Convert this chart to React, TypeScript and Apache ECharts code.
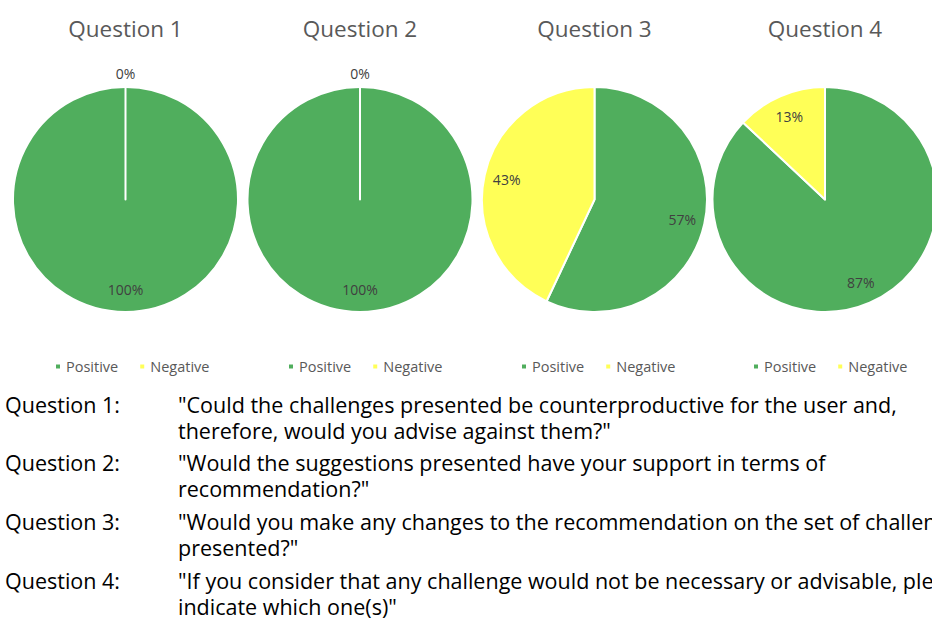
import React, { useEffect, useRef } from "react";
import * as echarts from "echarts";

const categories = ["Positive", "Negative"];
const chartTitles = ["Question 1", "Question 2", "Question 3", "Question 4"];
const positiveValues = [100, 100, 57, 87];
const negativeValues = [0, 0, 43, 13];
const questionLabels = ["Question 1:", "Question 2:", "Question 3:", "Question 4:"];
const questionTexts = [
  ['"Could the challenges presented be counterproductive for the user and,', 'therefore, would you advise against them?"'],
  ['"Would the suggestions presented have your support in terms of', 'recommendation?"'],
  ['"Would you make any changes to the recommendation on the set of challenges', 'presented?"'],
  ['"If you consider that any challenge would not be necessary or advisable, please', 'indicate which one(s)"'],
];

const GREEN = "#50AE5D";
const YELLOW = "#FFFF57";
const FONT = "'Open Sans', sans-serif";

const centersX = [125.5, 360, 594.5, 825];
const centerY = 199.5;
const R = 112.5;
const legendLefts = [54, 287, 520, 752];
const blockY = [404, 462, 521, 580];
const lineGap = 26;

export default function App() {
  const ref = useRef<HTMLDivElement>(null);
  useEffect(() => {
    document.body.style.margin = "0";
    const chart = echarts.init(ref.current!, null, { renderer: "svg" });

    const series = chartTitles.map((_, i) => ({
      type: "pie",
      name: chartTitles[i],
      center: [centersX[i], centerY],
      radius: R,
      startAngle: 90,
      clockwise: true,
      avoidLabelOverlap: false,
      data: [
        { name: categories[0], value: positiveValues[i], itemStyle: { color: GREEN } },
        { name: categories[1], value: negativeValues[i], itemStyle: { color: YELLOW } },
      ],
      itemStyle: { borderColor: "#ffffff", borderWidth: 2 },
      label: {
        show: true,
        position: "inside",
        formatter: (p: any) => `${p.value}%`,
        color: "#404040",
        fontSize: 14,
        fontFamily: FONT,
      },
      labelLine: { show: false },
      labelLayout: (p: any) => {
        const s = p.seriesIndex;
        const vals = [positiveValues[s], negativeValues[s]];
        const total = vals[0] + vals[1];
        let start = 0;
        for (let k = 0; k < p.dataIndex; k++) start += vals[k];
        const v = vals[p.dataIndex];
        const mid = ((start + v / 2) / total) * Math.PI * 2;
        const f = v === 0 ? 1.12 : 0.8;
        return {
          x: centersX[s] + Math.sin(mid) * R * f,
          y: centerY - Math.cos(mid) * R * f,
          align: "center",
          verticalAlign: "middle",
        };
      },
      emphasis: { disabled: true },
    }));

    const graphics: any[] = [];
    questionLabels.forEach((lbl, i) => {
      graphics.push({
        type: "text",
        x: 5,
        y: blockY[i],
        style: { text: lbl, fontSize: 21.5, lineHeight: 24, fontFamily: FONT, fill: "#000", verticalAlign: "middle" },
      });
      questionTexts[i].forEach((t, j) => {
        graphics.push({
          type: "text",
          x: 178,
          y: blockY[i] + j * lineGap,
          style: { text: t, fontSize: 21.5, lineHeight: 24, fontFamily: FONT, fill: "#000", verticalAlign: "middle" },
        });
      });
    });

    chart.setOption({
      animation: false,
      backgroundColor: "#ffffff",
      title: chartTitles.map((t, i) => ({
        text: t,
        left: centersX[i],
        top: 17,
        padding: 0,
        textAlign: "center",
        textStyle: { fontSize: 22.5, fontWeight: "normal", color: "#595959", fontFamily: FONT },
      })),
      legend: chartTitles.map((_, i) => ({
        data: categories,
        left: legendLefts[i],
        top: 359,
        padding: 0,
        icon: "rect",
        itemWidth: 6,
        itemHeight: 6,
        itemGap: 20,
        selectedMode: false,
        textStyle: { fontSize: 14.5, color: "#595959", fontFamily: FONT },
      })),
      series,
      graphic: graphics,
    });
    return () => chart.dispose();
  }, []);
  return <div ref={ref} style={{ width: 932, height: 622 }} />;
}
